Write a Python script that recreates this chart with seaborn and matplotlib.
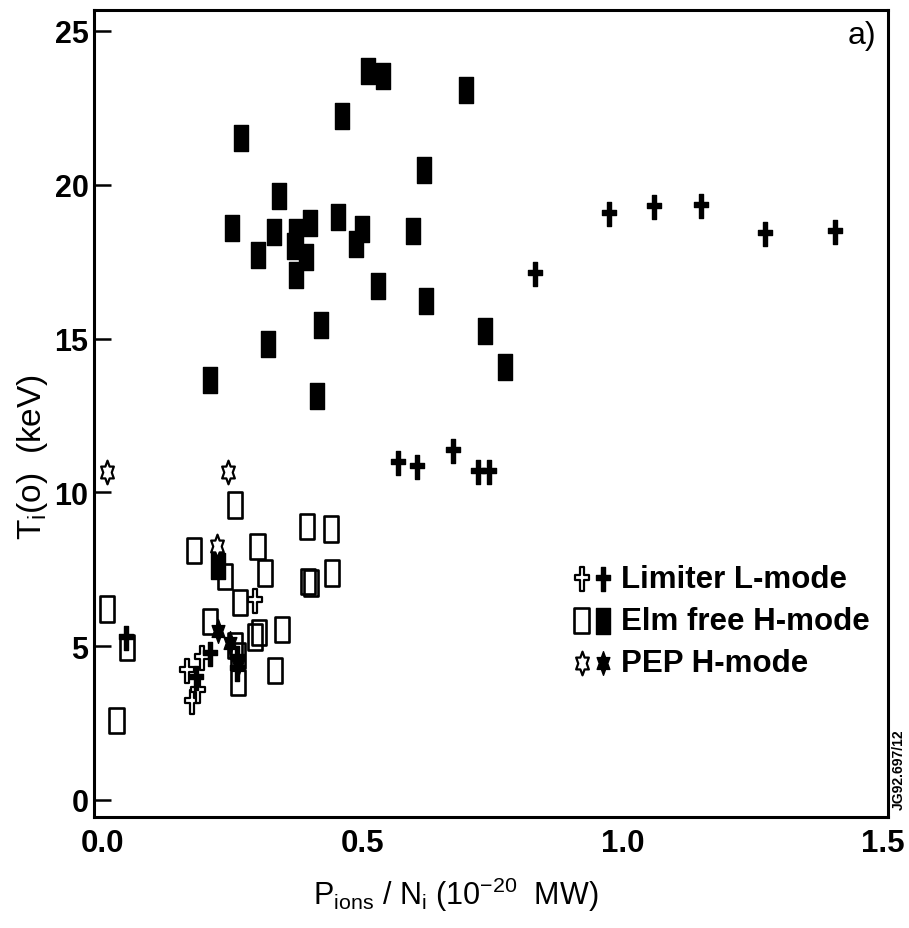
import numpy as np
import pandas as pd
import matplotlib
matplotlib.use("Agg")
import matplotlib.pyplot as plt
import seaborn as sns
from matplotlib.path import Path
from matplotlib.legend_handler import HandlerTuple

# ---------------- data ----------------
limiter_open_x = [0.161, 0.171, 0.190, 0.183, 0.292]
limiter_open_y = [4.20, 3.20, 4.60, 3.55, 6.48]

limiter_filled_x = [0.831, 0.974, 1.060, 1.150, 1.274, 1.408,
                    0.568, 0.603, 0.674, 0.722, 0.743,
                    0.045, 0.205, 0.178, 0.257, 0.257]
limiter_filled_y = [17.10, 19.05, 19.29, 19.32, 18.40, 18.46,
                    10.97, 10.81, 11.36, 10.65, 10.65,
                    5.25, 4.75, 3.95, 4.60, 4.25]

elm_open_x = [0.254, 0.392, 0.438, 0.175, 0.297, 0.3115, 0.235, 0.395,
              0.400, 0.440, 0.263, 0.007, 0.206, 0.292, 0.300, 0.344,
              0.0455, 0.254, 0.260, 0.331, 0.026, 0.260]
elm_open_y = [9.59, 8.90, 8.81, 8.10, 8.25, 7.38, 7.27, 7.10,
              7.05, 7.38, 6.43, 6.21, 5.80, 5.30, 5.45, 5.54,
              4.96, 5.02, 3.83, 4.20, 2.58, 4.70]

elm_filled_x = [0.509, 0.539, 0.699, 0.459, 0.265, 0.617, 0.338, 0.248,
                0.329, 0.399, 0.451, 0.498, 0.597, 0.371, 0.367, 0.390,
                0.371, 0.299, 0.486, 0.529, 0.622, 0.420, 0.318, 0.735,
                0.206, 0.411, 0.774, 0.222]
elm_filled_y = [23.70, 23.55, 23.09, 22.24, 21.51, 20.48, 19.63, 18.60,
                18.46, 18.76, 18.96, 18.56, 18.51, 18.45, 18.02, 17.64,
                17.05, 17.72, 18.07, 16.70, 16.21, 15.44, 14.82, 15.24,
                13.65, 13.14, 14.07, 7.59]

pep_open_x = [0.007, 0.241, 0.219]
pep_open_y = [10.65, 10.65, 8.27]

pep_filled_x = [0.222, 0.244, 0.260]
pep_filled_y = [5.50, 5.10, 4.40]

legend_labels = ["Limiter L-mode", "Elm free H-mode", "PEP H-mode"]
x_ticks = [0.0, 0.5, 1.0, 1.5]
x_ticklabels = ["0.0", "0.5", "1.0", "1.5"]
y_ticks = [0, 5, 10, 15, 20, 25]

# ---------------- marker shapes ----------------
def cross_path():
    a, b, c, h = 0.10, 0.30, 0.06, 0.10
    v = [(-a, -0.5), (a, -0.5), (a, c - h), (b, c - h), (b, c + h), (a, c + h),
         (a, 0.5), (-a, 0.5), (-a, c + h), (-b, c + h), (-b, c - h), (-a, c - h),
         (-a, -0.5)]
    return Path(v, closed=True)

def rect_path():
    w = 0.28
    v = [(-w, -0.5), (w, -0.5), (w, 0.5), (-w, 0.5), (-w, -0.5)]
    return Path(v, closed=True)

def star_path():
    pts = []
    for k in range(12):
        ang = np.pi / 2 + k * np.pi / 6
        r = 1.0 if k % 2 == 0 else 1.0 / np.sqrt(3)
        pts.append((0.62 * r * np.cos(ang) * 0.5, r * np.sin(ang) * 0.5))
    pts.append(pts[0])
    return Path(pts, closed=True)

CROSS = cross_path()
RECT = rect_path()
STAR = star_path()

# ---------------- style ----------------
sns.set_theme(style="white")
plt.rcParams["font.family"] = ["Liberation Sans", "DejaVu Sans"]
plt.rcParams["mathtext.default"] = "regular"

fig = plt.figure(figsize=(9.09, 9.29), dpi=100)
W, H = 909, 929
ax = fig.add_axes([94 / W, 1 - 818 / H, 794 / W, 807 / H])

S_RECT = 330
S_CROSS = 300
S_STAR = 290

def draw(xs, ys, marker, s, filled, lw, z):
    df = pd.DataFrame({"x": xs, "y": ys})
    fc = "black" if filled else "white"
    sns.scatterplot(data=df, x="x", y="y", ax=ax, marker=marker, s=s,
                    color="black", facecolor=fc, edgecolor="black",
                    linewidth=lw, zorder=z, legend=False)
    return ax.collections[-1]

h_elm_f = draw(elm_filled_x, elm_filled_y, RECT, S_RECT, True, 1.0, 3)
h_elm_o = draw(elm_open_x, elm_open_y, RECT, S_RECT, False, 1.9, 4)
h_elm_o.set_facecolor("none")
h_lim_o = draw(limiter_open_x, limiter_open_y, CROSS, S_CROSS, False, 1.6, 5)
h_lim_f = draw(limiter_filled_x, limiter_filled_y, CROSS, S_CROSS, True, 1.0, 6)
h_pep_o = draw(pep_open_x, pep_open_y, STAR, S_STAR, False, 1.6, 7)
h_pep_f = draw(pep_filled_x, pep_filled_y, STAR, S_STAR, True, 1.0, 7)

ax.set_xlim(-0.0173, 1.5096)
ax.set_ylim(-0.553, 25.68)

ax.set_xticks(x_ticks)
ax.set_xticklabels(x_ticklabels)
ax.set_xticks([0.5, 1.0], minor=True)
ax.set_yticks(y_ticks)
ax.tick_params(axis="x", which="major", length=0, pad=8, labelsize=22.5)
ax.tick_params(axis="x", which="minor", direction="in", length=13, width=1.5,
               bottom=True, color="black")
ax.tick_params(axis="y", which="major", direction="in", length=12, width=1.8,
               pad=4, labelsize=22, left=True, color="black")
for lab in ax.get_xticklabels() + ax.get_yticklabels():
    lab.set_fontweight("bold")
    lab.set_color("black")

for sp in ax.spines.values():
    sp.set_linewidth(2.2)
    sp.set_color("black")

ax.set_xlabel("")
ax.set_ylabel("")
fig.text(32 / W, 1 - 457 / H, r"T$_\mathregular{i}$(o)  (keV)", rotation=90,
         ha="center", va="center", fontsize=24, color="black")
fig.text(456 / W, 1 - 895 / H,
         r"P$_\mathregular{ions}$ / N$_\mathregular{i}$ (10$^\mathregular{-20}$  MW)",
         ha="center", va="center", fontsize=22, color="black")
fig.text(862 / W, 1 - 36 / H, "a)", ha="center", va="center", fontsize=23,
         color="black")
fig.text(899 / W, 1 - 770 / H, "JG92.697/12", rotation=90, ha="center",
         va="center", fontsize=10, fontweight="bold", color="black")

leg = ax.legend(handles=[(h_lim_o, h_lim_f), (h_elm_o, h_elm_f), (h_pep_o, h_pep_f)],
                labels=legend_labels,
                handler_map={tuple: HandlerTuple(ndivide=None, pad=0.0)},
                loc="upper left", bbox_to_anchor=(571 / W, 1 - 565 / H),
                bbox_transform=fig.transFigure, frameon=False,
                prop={"size": 22.5, "weight": "bold"},
                handlelength=1.35, handletextpad=0.25, labelspacing=0.38,
                borderpad=0, borderaxespad=0, scatterpoints=1)
for t in leg.get_texts():
    t.set_color("black")

fig.savefig("out.png", dpi=100, facecolor="white")
